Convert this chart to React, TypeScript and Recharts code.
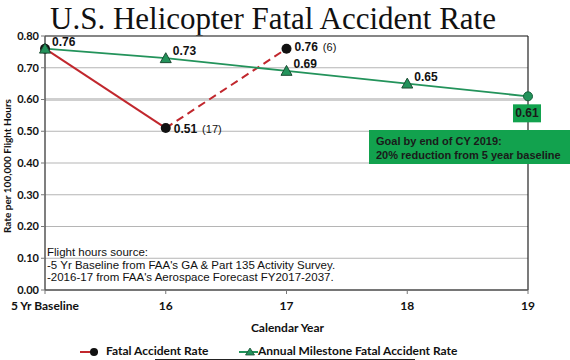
import React from 'react';
import {
  LineChart, Line, XAxis, YAxis, CartesianGrid, ReferenceLine, LabelList
} from 'recharts';

const years = ['5 Yr Baseline', '16', '17', '18', '19'];
const fatalRate = [0.76, 0.51, 0.76, null, null];
const fatalLabels = [null, '0.51', '0.76', null, null];
const fatalNotes = [null, '(17)', '(6)', null, null];
const milestoneRate = [0.76, 0.73, 0.69, 0.65, 0.61];
const milestoneLabels = ['0.76', '0.73', '0.69', '0.65', '0.61'];
const yTicks = [0, 0.1, 0.2, 0.3, 0.4, 0.5, 0.6, 0.7, 0.8];

const sourceLines = [
  'Flight hours source:',
  "-5 Yr Baseline from FAA's GA & Part 135 Activity Survey.",
  "-2016-17 from FAA's Aerospace Forecast FY2017-2037.",
];
const goalLines = ['Goal by end of CY 2019:', '20% reduction from 5 year baseline'];

// solid part up to 2016, dashed part for 2016-17 (preliminary)
const data = years.map((year, i) => ({
  year,
  fatalSolid: i <= 1 ? fatalRate[i] : null,
  fatalDashed: i >= 1 ? fatalRate[i] : null,
  milestone: milestoneRate[i],
}));

const RED = '#c1272d';
const GREEN = '#23935b';
const BOX_GREEN = '#12a24e';
const LABEL_FONT = 'Arial, "Liberation Sans", sans-serif';
const AXIS_FONT = 'Lato, "Open Sans", sans-serif';

const FatalDot = (props: any) => {
  const { cx, cy, value } = props;
  if (value == null || cy == null) return <g key={props.key} />;
  return <circle key={props.key} cx={cx} cy={cy} r={5} fill="#111" />;
};

const MilestoneDot = (props: any) => {
  const { cx, cy, index } = props;
  if (cy == null) return <g key={props.key} />;
  if (index === milestoneRate.length - 1) {
    return <circle key={props.key} cx={cx} cy={cy} r={4.5} fill={GREEN} stroke="#16603b" strokeWidth={1} />;
  }
  const s = 5.5;
  return (
    <polygon
      key={props.key}
      points={`${cx},${cy - s} ${cx - s},${cy + s * 0.8} ${cx + s},${cy + s * 0.8}`}
      fill={GREEN}
      stroke="#1b4d33"
      strokeWidth={1}
    />
  );
};

const MilestoneLabel = (props: any) => {
  const { x, y, index } = props;
  const text = milestoneLabels[index];
  if (!text) return null;
  if (index === milestoneLabels.length - 1) {
    return (
      <g>
        <rect x={x - 15} y={y + 8} width={28} height={18} fill={BOX_GREEN} />
        <text x={x - 1} y={y + 18} textAnchor="middle" dominantBaseline="middle"
          fontFamily={LABEL_FONT} fontWeight="bold" fontSize={12} fill="#1a1a1a">{text}</text>
      </g>
    );
  }
  return (
    <text x={x + 7} y={y - 6} dominantBaseline="middle" fontFamily={LABEL_FONT}
      fontWeight="bold" fontSize={12} fill="#111">{text}</text>
  );
};

const FatalLabel = (props: any) => {
  const { x, y, index } = props;
  const text = fatalLabels[index];
  if (!text) return null;
  return (
    <text x={x + 8} y={index === 1 ? y + 2 : y - 1} dominantBaseline="middle" fontFamily={LABEL_FONT} fill="#111">
      <tspan fontWeight="bold" fontSize={12}>{text}</tspan>
      <tspan fontSize={11} dx={5}>{fatalNotes[index]}</tspan>
    </text>
  );
};

const App: React.FC = () => {
  return (
    <div style={{ position: 'absolute', left: 0, top: 0, width: 570, height: 360, background: '#fff', overflow: 'hidden' }}>
      <div style={{
        position: 'absolute', left: 0, top: 0, width: 570, textAlign: 'center', paddingRight: 24, boxSizing: 'border-box',
        fontFamily: '"Liberation Serif", "DejaVu Serif", serif', fontSize: 31, lineHeight: '37px', color: '#111'
      }}>
        U.S. Helicopter Fatal Accident Rate
      </div>

      <LineChart width={570} height={360} data={data} margin={{ top: 36, right: 42, bottom: 40, left: 5 }}>
        <CartesianGrid horizontal vertical={false} stroke="#b5b5b5" />
        <XAxis
          dataKey="year"
          height={30}
          axisLine={{ stroke: '#555', strokeWidth: 1.5 }}
          tickLine={{ stroke: '#777' }}
          tickSize={4}
          tickMargin={7}
          interval={0}
          tick={{ fontFamily: AXIS_FONT, fontWeight: 'bold', fontSize: 12, fill: '#111' }}
        />
        <YAxis
          width={40}
          domain={[0, 0.8]}
          ticks={yTicks}
          tickFormatter={(v: number) => v.toFixed(2)}
          axisLine={{ stroke: '#555', strokeWidth: 1.5 }}
          tickLine={{ stroke: '#777' }}
          tickSize={4}
          tick={{ fontFamily: AXIS_FONT, fontWeight: 'bold', fontSize: 11, fill: '#111' }}
        />
        <ReferenceLine y={0.6} stroke="#cfcfcf" strokeWidth={3} />
        <ReferenceLine y={0.8} stroke="#333" strokeWidth={1.2} />
        <ReferenceLine x="19" stroke="#222" strokeWidth={1.2} />

        <Line dataKey="fatalSolid" stroke={RED} strokeWidth={2} dot={FatalDot} activeDot={false}
          connectNulls={false} isAnimationActive={false} />
        <Line dataKey="fatalDashed" stroke={RED} strokeWidth={2} strokeDasharray="8 5"
          dot={(p: any) => (p.index === 2 ? FatalDot(p) : <g key={p.key} />)} activeDot={false}
          connectNulls={false} isAnimationActive={false}>
          <LabelList dataKey="fatalDashed" content={FatalLabel} />
        </Line>
        <Line dataKey="milestone" stroke={GREEN} strokeWidth={1.8} dot={MilestoneDot} activeDot={false}
          isAnimationActive={false}>
          <LabelList dataKey="milestone" content={MilestoneLabel} />
        </Line>
      </LineChart>

      <div style={{
        position: 'absolute', left: 7, top: 166, transform: 'translate(-50%, -50%) rotate(-90deg)', whiteSpace: 'nowrap',
        fontFamily: AXIS_FONT, fontWeight: 'bold', fontSize: 10, color: '#111'
      }}>
        Rate per 100,000 Flight Hours
      </div>

      <div style={{
        position: 'absolute', left: 47, top: 246, fontFamily: LABEL_FONT, fontSize: 11.5, lineHeight: '12.5px', color: '#111', whiteSpace: 'nowrap'
      }}>
        {sourceLines.map((l) => <div key={l}>{l}</div>)}
      </div>

      <div style={{
        position: 'absolute', left: 369, top: 130, width: 201, height: 34, background: BOX_GREEN, boxSizing: 'border-box',
        padding: '4px 0 0 7px', fontFamily: LABEL_FONT, fontWeight: 'bold', fontSize: 11, lineHeight: '14px', color: '#1a1a1a', whiteSpace: 'nowrap'
      }}>
        {goalLines.map((l) => <div key={l}>{l}</div>)}
      </div>

      <div style={{
        position: 'absolute', left: 0, width: 575, top: 320, textAlign: 'center',
        fontFamily: AXIS_FONT, fontWeight: 'bold', fontSize: 12, color: '#111'
      }}>
        Calendar Year
      </div>

      <svg style={{ position: 'absolute', left: 0, top: 340 }} width={570} height={20}>
        <line x1={80} y1={12} x2={98} y2={12} stroke={RED} strokeWidth={2} />
        <circle cx={94} cy={12} r={4} fill="#111" />
        <text x={106} y={12} dominantBaseline="middle" fontFamily={AXIS_FONT} fontWeight="bold" fontSize={12} fill="#111">Fatal Accident Rate</text>
        <line x1={239} y1={12} x2={258} y2={12} stroke={GREEN} strokeWidth={2} />
        <polygon points="250,8 245.5,15 254.5,15" fill={GREEN} stroke="#1b4d33" strokeWidth={0.8} />
        <text x={258} y={12} dominantBaseline="middle" fontFamily={AXIS_FONT} fontWeight="bold" fontSize={12} fill="#111">Annual Milestone Fatal Accident Rate</text>
        <line x1={155} y1={19.5} x2={415} y2={19.5} stroke="#222" strokeWidth={1} />
      </svg>
    </div>
  );
};

export default App;
